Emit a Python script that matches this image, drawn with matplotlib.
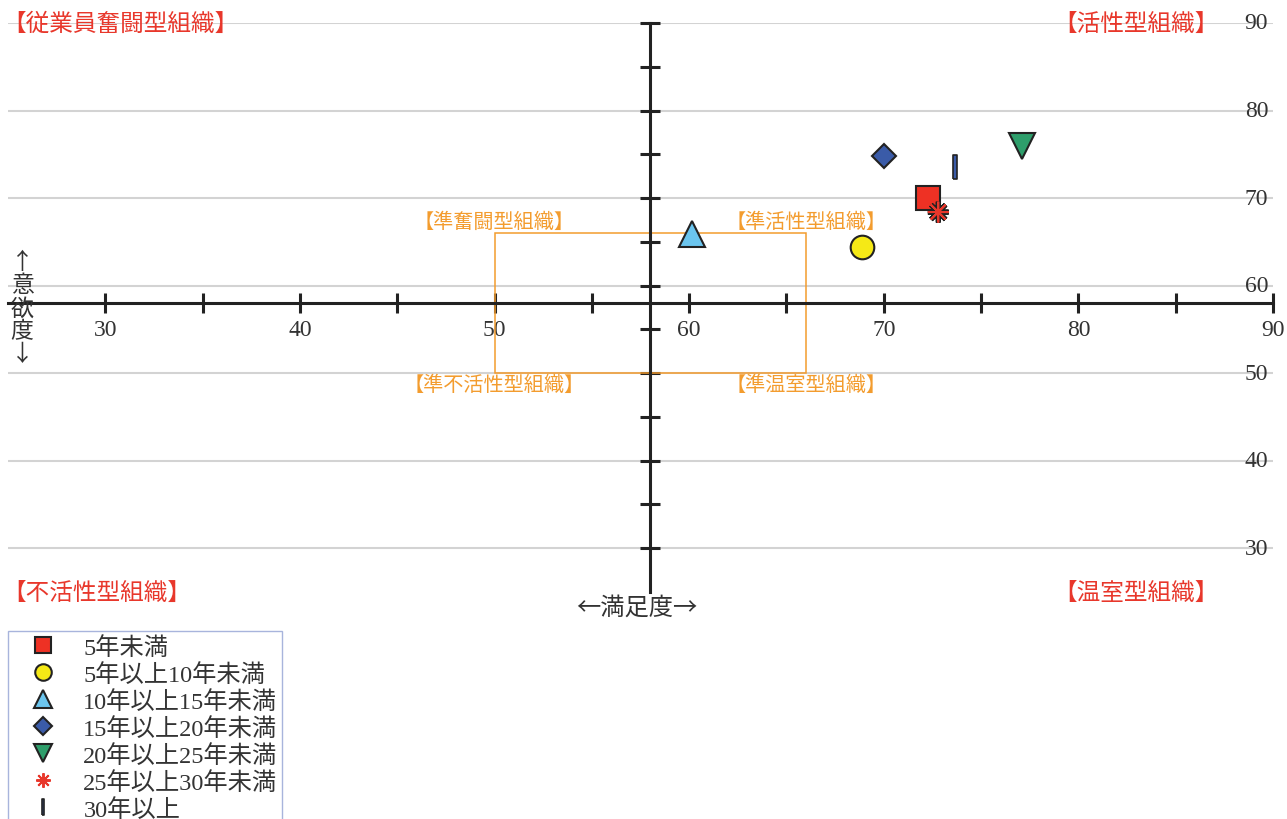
import matplotlib as mpl
import matplotlib.pyplot as plt
import matplotlib.patheffects as pe
from matplotlib.patches import Rectangle

mpl.use("Agg")

JP = ["Noto Sans CJK JP", "DejaVu Sans"]
NUM = ["Liberation Serif", "Noto Sans CJK JP"]
INK = "#222222"
RED = "#E8372B"
ORANGE = "#F39C2E"

# 勤続年数グループ別の満足度（x）と意欲度（y）
groups = ["5年未満", "5年以上10年未満", "10年以上15年未満", "15年以上20年未満",
          "20年以上25年未満", "25年以上30年未満", "30年以上"]
satisfaction = [72.25, 68.9, 60.15, 70.0, 77.1, 72.8, 73.65]
motivation = [70.0, 64.4, 65.9, 74.8, 76.0, 68.4, 73.6]

x_ticks = [30, 40, 50, 60, 70, 80, 90]
y_ticks = [30, 40, 50, 60, 70, 80, 90]
cross = 58          # axes cross at (58, 58)
semi_box = (50, 50, 66, 66)   # 準〜型組織 box: x0, y0, x1, y1

bar = [(-0.13, -1), (0.13, -1), (0.13, 1), (-0.13, 1), (-0.13, -1)]
styles = [
    dict(marker="s", ms=17, mfc="#EE3124", mec=INK, mew=1.5),
    dict(marker="o", ms=17, mfc="#F5E916", mec=INK, mew=1.5),
    dict(marker="^", ms=19, mfc="#6BC5EE", mec=INK, mew=1.5),
    dict(marker="D", ms=12.5, mfc="#3A5BA8", mec=INK, mew=1.5),
    dict(marker="v", ms=19, mfc="#2E9E6B", mec=INK, mew=1.5),
    dict(marker=(8, 2, 0), ms=15, mfc=RED, mec=RED, mew=1.4),
    dict(marker=bar, ms=17, mfc="#3A5BA8", mec=INK, mew=1.2),
]

fig = plt.figure(figsize=(12.87, 8.2), dpi=100)
ax = fig.add_axes([8 / 1287, 1 - 593 / 820, (1273 - 8) / 1287, (593 - 24) / 820])
ax.set_xlim(25, 90)
ax.set_ylim(25, 90)

for sp in ["top", "right"]:
    ax.spines[sp].set_visible(False)
for sp in ["left", "bottom"]:
    ax.spines[sp].set_position(("data", cross))
    ax.spines[sp].set_color(INK)
    ax.spines[sp].set_linewidth(2.2)

ax.set_xticks(x_ticks)
ax.set_xticks(range(35, 90, 10), minor=True)
ax.set_xticklabels([str(v) for v in x_ticks], family=NUM, fontsize=17, color="#333333")
ax.set_yticks(y_ticks)
ax.set_yticks(range(35, 90, 10), minor=True)
ax.set_yticklabels([])
ax.tick_params(which="both", direction="inout", length=15, width=2.2, color=INK)
ax.tick_params(axis="x", which="major", pad=4)
ax.yaxis.grid(True, which="major", color="#D3D3D3", lw=1.5, zorder=0)
ax.set_axisbelow(True)

# y values sit at the right end of each gridline
for v in y_ticks:
    ax.text(89.75, v, str(v), ha="right", va="center", family=NUM, fontsize=17, color="#333333")

# semi-quadrant box and its labels
x0, y0, x1, y1 = semi_box
ax.add_patch(Rectangle((x0, y0), x1 - x0, y1 - y0, fill=False, ec=ORANGE, lw=1.1, zorder=1))
for xx, yy, s in [(x0, y1 + 1.3, "【準奮闘型組織】"),
                  (x1, y1 + 1.3, "【準活性型組織】"),
                  (x0, y0 - 1.3, "【準不活性型組織】"),
                  (x1, y0 - 1.3, "【準温室型組織】")]:
    ax.text(xx, yy, s, ha="center", va="center", family=JP, fontsize=14.5, color=ORANGE)

# quadrant labels in the corners
ax.text(24.7, 90, "【従業員奮闘型組織】", ha="left", va="center", family=JP, fontsize=17, color=RED)
ax.text(87.2, 90, "【活性型組織】", ha="right", va="center", family=JP, fontsize=17, color=RED)
ax.text(24.7, 25, "【不活性型組織】", ha="left", va="center", family=JP, fontsize=17, color=RED)
ax.text(87.2, 25, "【温室型組織】", ha="right", va="center", family=JP, fontsize=17, color=RED)

handles = []
for name, x, y, st in zip(groups, satisfaction, motivation, styles):
    h, = ax.plot([x], [y], ls="none", label=name, zorder=3, clip_on=False, **st)
    handles.append(h)
# dark outline round the asterisk spokes on the chart only
handles[5].set_path_effects([pe.Stroke(linewidth=3.6, foreground=INK), pe.Normal()])

fig.text(22 / 1287, 1 - 309 / 820, "↑\n意\n欲\n度\n↓", ha="center", va="center",
         family=JP, fontsize=16.5, color="#333333", linespacing=1.0)
fig.text(637 / 1287, 1 - 608 / 820, "←満足度→", ha="center", va="center",
         family=JP, fontsize=17.5, color="#333333")

leg = fig.legend(handles=handles, loc="upper left", bbox_to_anchor=(8 / 1287, 1 - 632 / 820),
                 bbox_transform=fig.transFigure, borderaxespad=0, frameon=True, fancybox=False,
                 edgecolor="#A8B4DC", framealpha=1, markerscale=0.7, handlelength=2.5,
                 handletextpad=0.4, labelspacing=0.17, borderpad=0.2,
                 prop={"family": NUM, "size": 17.5})
leg.get_frame().set_linewidth(1.0)
for t in leg.get_texts():
    t.set_color("#333333")
for h in leg.legend_handles:
    h.set_path_effects([])

fig.savefig("out.png", dpi=100, facecolor="white")
plt.close(fig)
